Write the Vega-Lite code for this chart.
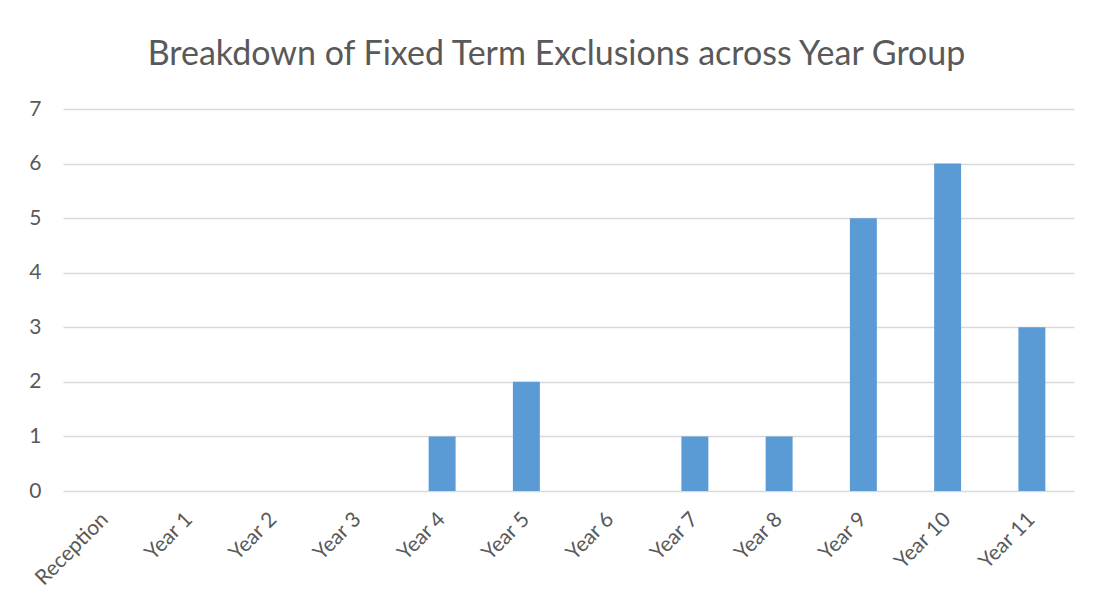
{
  "$schema": "https://vega.github.io/schema/vega-lite/v6.json",
  "width": 1011,
  "height": 382,
  "autosize": {"type": "none"},
  "padding": {"left": 63, "top": 109, "right": 20, "bottom": 116},
  "background": "white",
  "title": {
    "text": "Breakdown of Fixed Term Exclusions across Year Group",
    "font": "Lato",
    "fontSize": 34,
    "fontWeight": "normal",
    "color": "#595959",
    "anchor": "middle",
    "dx": -12,
    "offset": -8,
    "baseline": "bottom"
  },
  "data": {
    "values": [
      {"group": "Reception", "count": 0},
      {"group": "Year 1", "count": 0},
      {"group": "Year 2", "count": 0},
      {"group": "Year 3", "count": 0},
      {"group": "Year 4", "count": 1},
      {"group": "Year 5", "count": 2},
      {"group": "Year 6", "count": 0},
      {"group": "Year 7", "count": 1},
      {"group": "Year 8", "count": 1},
      {"group": "Year 9", "count": 5},
      {"group": "Year 10", "count": 6},
      {"group": "Year 11", "count": 3}
    ]
  },
  "mark": {"type": "bar", "color": "#5B9BD5"},
  "encoding": {
    "x": {
      "field": "group",
      "type": "nominal",
      "sort": null,
      "scale": {"paddingInner": 0.68, "paddingOuter": 0.34},
      "axis": {
        "title": null,
        "labelAngle": -45,
        "labelAlign": "right",
        "labelBaseline": "middle",
        "labelFont": "Lato",
        "labelFontSize": 21,
        "labelColor": "#595959",
        "labelPadding": 25,
        "ticks": false,
        "domain": false,
        "grid": false
      }
    },
    "y": {
      "field": "count",
      "type": "quantitative",
      "scale": {"domain": [0, 7]},
      "axis": {
        "title": null,
        "values": [0, 1, 2, 3, 4, 5, 6, 7],
        "labelFont": "Lato",
        "labelFontSize": 21,
        "labelColor": "#595959",
        "labelPadding": 22,
        "ticks": false,
        "domain": false,
        "grid": true,
        "gridColor": "#D9D9D9",
        "gridWidth": 1.3
      }
    }
  },
  "config": {"view": {"stroke": null}}
}
